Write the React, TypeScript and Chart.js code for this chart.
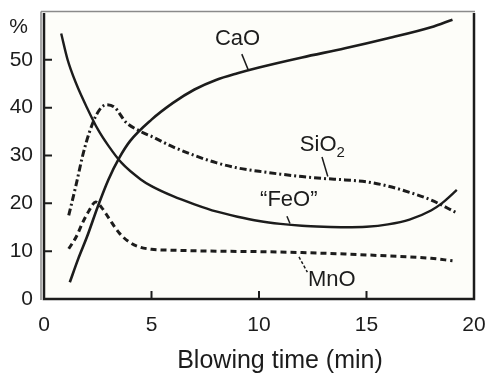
import React, { useEffect, useRef } from "react";
import { Chart, registerables } from "chart.js";

Chart.register(...registerables);

// Slag composition during blowing (time in min, content in %)
const caoTime = [1.2, 1.6, 2.0, 2.5, 3.0, 3.5, 4.0, 5.0, 6.0, 7.0, 8.0, 9.0, 10.0, 12.0, 14.0, 16.0, 18.0, 19.0];
const caoPct = [3.5, 8.5, 13, 19.3, 25, 29.5, 33, 37.5, 41, 43.8, 45.8, 47.2, 48.4, 50.5, 52.4, 54.5, 56.8, 58.4];

const feoTime = [0.8, 1.1, 1.5, 2.0, 2.5, 3.0, 3.6, 4.5, 5.0, 6.0, 7.0, 8.0, 9.0, 10.0, 11.0, 12.0, 13.0, 14.0, 15.0, 16.0, 17.0, 18.0, 18.5, 19.2];
const feoPct = [55.5, 50, 45, 40, 35.5, 32, 28.5, 25, 23.6, 21.5, 19.8, 18.3, 17.2, 16.3, 15.7, 15.3, 15.1, 15, 15.1, 15.6, 16.6, 18.5, 20, 22.8];

const sio2Time = [1.15, 1.5, 1.8, 2.1, 2.5, 2.9, 3.3, 3.8, 4.5, 5.0, 6.0, 7.0, 8.0, 9.0, 10.0, 11.0, 12.0, 13.0, 14.0, 15.0, 16.0, 17.0, 18.0, 19.2];
const sio2Pct = [17.5, 24, 30, 34.7, 39, 40.6, 40, 37, 35, 34, 31.8, 30, 28.5, 27.4, 26.7, 26.1, 25.6, 25.2, 24.9, 24.5, 23.6, 22.3, 20.7, 18];

const mnoTime = [1.15, 1.5, 1.8, 2.1, 2.4, 2.7, 3.0, 3.5, 4.0, 4.5, 5.0, 6.0, 8.0, 10.0, 12.0, 14.0, 16.0, 18.0, 19.0];
const mnoPct = [10.5, 13, 16, 18.5, 20.3, 19, 17, 13.8, 11.8, 10.8, 10.4, 10.2, 10, 9.9, 9.7, 9.4, 9, 8.5, 8];

const xTicks = [0, 5, 10, 15, 20];
const yTicks = [0, 10, 20, 30, 40, 50];

// Curve labels: text, anchor (data coords) and leader line ends
const curveLabels = [
  { text: "CaO", x: 7.95, y: 54.4, from: [9.2, 51.2], to: [9.5, 47.9], dashed: false },
  { text: "SiO", sub: "2", x: 11.9, y: 32.2, from: [12.93, 29.7], to: [13.2, 25.6], dashed: false },
  { text: "\u201CFeO\u201D", x: 10.05, y: 20.7, from: [11.3, 17.3], to: [11.44, 15.8], dashed: false },
  { text: "MnO", x: 12.28, y: 4.0, from: [11.86, 8.8], to: [12.25, 5.6], dashed: true },
];

const FONT = "'Liberation Sans', Arial, sans-serif";
const INK = "#1c1c1c";

const toPoints = (xs: number[], ys: number[]) => xs.map((x, i) => ({ x, y: ys[i] }));

const decorPlugin = {
  id: "decor",
  beforeDraw(chart: any) {
    const { ctx, chartArea: a } = chart;
    ctx.save();
    ctx.fillStyle = "#fdfdf9";
    ctx.fillRect(a.left, a.top, a.right - a.left, a.bottom - a.top);
    ctx.restore();
  },
  afterDraw(chart: any) {
    const { ctx, chartArea: a, scales } = chart;
    const xs = scales.x;
    const ys = scales.y;
    ctx.save();

    // frame
    ctx.strokeStyle = "#8a8a8a";
    ctx.lineWidth = 1.5;
    ctx.beginPath();
    ctx.moveTo(a.left - 3, a.top - 0.5);
    ctx.lineTo(a.right + 1, a.top - 0.5);
    ctx.moveTo(a.left - 3, a.top - 0.5);
    ctx.lineTo(a.left - 3, a.bottom + 1);
    ctx.stroke();
    ctx.strokeStyle = INK;
    ctx.lineWidth = 2.5;
    ctx.beginPath();
    ctx.moveTo(a.left, a.top + 1);
    ctx.lineTo(a.left, a.bottom);
    ctx.lineTo(a.right, a.bottom);
    ctx.lineTo(a.right, a.top + 1);
    ctx.stroke();

    // inward tick marks
    ctx.lineWidth = 2;
    ctx.beginPath();
    yTicks.slice(1).forEach((v) => {
      const py = ys.getPixelForValue(v);
      ctx.moveTo(a.left, py);
      ctx.lineTo(a.left + 8, py);
    });
    xTicks.slice(1, -1).forEach((v) => {
      const px = xs.getPixelForValue(v);
      ctx.moveTo(px, a.bottom);
      ctx.lineTo(px, a.bottom - 8);
    });
    ctx.stroke();

    // leader lines
    ctx.lineWidth = 1.5;
    curveLabels.forEach((l) => {
      ctx.setLineDash(l.dashed ? [3, 2] : []);
      ctx.beginPath();
      ctx.moveTo(xs.getPixelForValue(l.from[0]), ys.getPixelForValue(l.from[1]));
      ctx.lineTo(xs.getPixelForValue(l.to[0]), ys.getPixelForValue(l.to[1]));
      ctx.stroke();
    });
    ctx.setLineDash([]);

    // curve labels
    ctx.fillStyle = INK;
    ctx.textBaseline = "middle";
    ctx.textAlign = "left";
    curveLabels.forEach((l) => {
      ctx.font = `22px ${FONT}`;
      const px = xs.getPixelForValue(l.x);
      const py = ys.getPixelForValue(l.y);
      ctx.fillText(l.text, px, py);
      if (l.sub) {
        const w = ctx.measureText(l.text).width;
        ctx.font = `15px ${FONT}`;
        ctx.fillText(l.sub, px + w, py + 8);
      }
    });

    // unit and axis title
    ctx.font = `21px ${FONT}`;
    ctx.textAlign = "right";
    ctx.fillText("%", a.left - 16, ys.getPixelForValue(56.8));
    ctx.font = `25px ${FONT}`;
    ctx.textAlign = "center";
    ctx.textBaseline = "alphabetic";
    ctx.fillText("Blowing time (min)", (a.left + a.right) / 2 + 21, 368);
    ctx.restore();
  },
};

export default function App() {
  const ref = useRef<HTMLCanvasElement | null>(null);

  useEffect(() => {
    document.body.style.margin = "0";
    const canvas = ref.current;
    if (!canvas) return;
    const line = (data: any[], width: number, dash: number[]) => ({
      data,
      borderColor: INK,
      borderWidth: width,
      borderDash: dash,
      pointRadius: 0,
      cubicInterpolationMode: "monotone" as const,
      fill: false,
    });
    const noOverhang = (s: any) => {
      s.paddingLeft = 0;
      s.paddingRight = 0;
      s.paddingTop = 0;
      s.paddingBottom = 0;
    };
    const chart = new Chart(canvas, {
      type: "line",
      data: {
        datasets: [
          { label: "CaO", ...line(toPoints(caoTime, caoPct), 2.6, []) },
          { label: "FeO", ...line(toPoints(feoTime, feoPct), 2.4, []) },
          { label: "SiO2", ...line(toPoints(sio2Time, sio2Pct), 3, [7, 3, 2, 3]) },
          { label: "MnO", ...line(toPoints(mnoTime, mnoPct), 3, [6, 4]) },
        ],
      },
      options: {
        responsive: false,
        animation: false,
        layout: { padding: { left: 0, top: 12, right: 15, bottom: 0 } },
        plugins: { legend: { display: false }, tooltip: { enabled: false } },
        scales: {
          x: {
            type: "linear",
            min: 0,
            max: 20,
            border: { display: false },
            grid: { display: false, drawTicks: false },
            afterBuildTicks: (s: any) => {
              s.ticks = xTicks.map((v) => ({ value: v }));
            },
            afterFit: (s: any) => {
              s.height = 78;
              noOverhang(s);
            },
            ticks: {
              padding: 14,
              color: INK,
              font: { family: FONT, size: 21 },
              maxRotation: 0,
            },
          },
          y: {
            type: "linear",
            min: 0,
            max: 60,
            border: { display: false },
            grid: { display: false, drawTicks: false },
            afterBuildTicks: (s: any) => {
              s.ticks = yTicks.map((v) => ({ value: v }));
            },
            afterFit: (s: any) => {
              s.width = 44;
              noOverhang(s);
            },
            ticks: {
              padding: 11,
              color: INK,
              font: { family: FONT, size: 21 },
            },
          },
        },
      },
      plugins: [decorPlugin],
    });
    return () => chart.destroy();
  }, []);

  return <canvas ref={ref} width={489} height={377} style={{ display: "block" }} />;
}
